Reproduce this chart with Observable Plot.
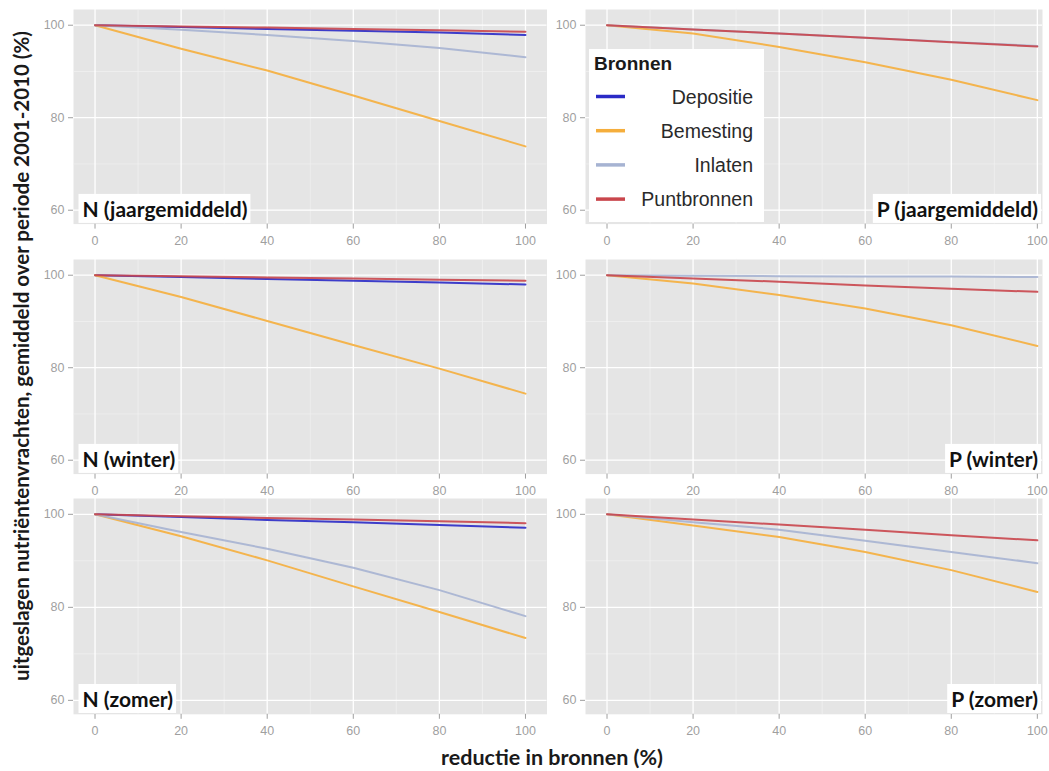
<!DOCTYPE html>
<html>
<head>
<meta charset="utf-8">
<script src="https://cdn.jsdelivr.net/npm/d3@7"></script>
<script src="https://cdn.jsdelivr.net/npm/@observablehq/plot@0.6"></script>
<style>
  body { margin: 0; background: #fff; }
  #chart { position: relative; width: 1049px; height: 771px; overflow: hidden; background: #fff; }
  #chart svg.paneel { position: absolute; }
  #overlay { position: absolute; left: 0; top: 0; pointer-events: none; }
</style>
</head>
<body>
<div id="chart"></div>
<script>
// Reductie in bronnen (%) op de x-as
const reductie = [0, 20, 40, 60, 80, 100];
const bronnen = ["Depositie", "Bemesting", "Inlaten", "Puntbronnen"];
const kleuren = ["#2a2ac6", "#f5ae3c", "#a6b3d2", "#c9464c"];
const xTicks = [0, 20, 40, 60, 80, 100];
const xMinor = [10, 30, 50, 70, 90];
const yTicks = [60, 80, 100];
const yMinor = [70, 90];

// N, jaargemiddeld
const nJaarDepositie   = [100, 99.6, 99.2, 98.8, 98.4, 97.9];
const nJaarBemesting   = [100, 94.9, 90.2, 84.8, 79.3, 73.8];
const nJaarInlaten     = [100, 99.0, 97.9, 96.6, 95.1, 93.1];
const nJaarPuntbronnen = [100, 99.7, 99.5, 99.2, 98.9, 98.6];
// P, jaargemiddeld
const pJaarBemesting   = [100, 98.2, 95.3, 92.0, 88.2, 83.8];
const pJaarInlaten     = [100, 99.1, 98.2, 97.3, 96.4, 95.5];
const pJaarPuntbronnen = [100, 99.1, 98.2, 97.3, 96.3, 95.4];
// N, winter
const nWinterDepositie   = [100, 99.6, 99.2, 98.8, 98.4, 98.0];
const nWinterBemesting   = [100, 95.3, 90.1, 84.9, 79.8, 74.4];
const nWinterPuntbronnen = [100, 99.8, 99.5, 99.3, 99.0, 98.8];
// P, winter
const pWinterBemesting   = [100, 98.2, 95.7, 92.8, 89.2, 84.7];
const pWinterInlaten     = [100, 99.9, 99.8, 99.7, 99.7, 99.6];
const pWinterPuntbronnen = [100, 99.3, 98.6, 97.8, 97.1, 96.4];
// N, zomer
const nZomerDepositie   = [100, 99.4, 98.8, 98.3, 97.7, 97.1];
const nZomerBemesting   = [100, 95.3, 90.1, 84.5, 79.0, 73.4];
const nZomerInlaten     = [100, 96.2, 92.6, 88.5, 83.7, 78.1];
const nZomerPuntbronnen = [100, 99.6, 99.2, 98.9, 98.5, 98.1];
// P, zomer
const pZomerBemesting   = [100, 97.6, 95.1, 91.9, 88.0, 83.3];
const pZomerInlaten     = [100, 98.3, 96.7, 94.3, 91.9, 89.5];
const pZomerPuntbronnen = [100, 98.9, 97.8, 96.7, 95.5, 94.4];

const panelen = [
  {label: "N (jaargemiddeld)", kolom: 0, rij: 0, reeksen: {Depositie: nJaarDepositie, Bemesting: nJaarBemesting, Inlaten: nJaarInlaten, Puntbronnen: nJaarPuntbronnen}},
  {label: "P (jaargemiddeld)", kolom: 1, rij: 0, reeksen: {Bemesting: pJaarBemesting, Inlaten: pJaarInlaten, Puntbronnen: pJaarPuntbronnen}},
  {label: "N (winter)", kolom: 0, rij: 1, reeksen: {Depositie: nWinterDepositie, Bemesting: nWinterBemesting, Puntbronnen: nWinterPuntbronnen}},
  {label: "P (winter)", kolom: 1, rij: 1, reeksen: {Bemesting: pWinterBemesting, Inlaten: pWinterInlaten, Puntbronnen: pWinterPuntbronnen}},
  {label: "N (zomer)", kolom: 0, rij: 2, reeksen: {Depositie: nZomerDepositie, Bemesting: nZomerBemesting, Inlaten: nZomerInlaten, Puntbronnen: nZomerPuntbronnen}},
  {label: "P (zomer)", kolom: 1, rij: 2, reeksen: {Bemesting: pZomerBemesting, Inlaten: pZomerInlaten, Puntbronnen: pZomerPuntbronnen}}
];

// Plaatsing van de panelen (pixels) en het zichtbare x-bereik per kolom
const kolommen = [
  {links: 72.5, rechts: 546, xDomein: [-5, 105], mL: 45, mR: 3},
  {links: 585, rechts: 1042, xDomein: [-5, 101.2], mL: 45, mR: 7}
];
const rijen = [
  {boven: 9.3, onder: 223.9},
  {boven: 259.3, onder: 473.9},
  {boven: 498.2, onder: 714}
];
const yDomein = [57, 103.4];
const mT = 4, mB = 32;

const chart = document.getElementById("chart");
const tekstGrijs = "#9f9f9f";

for (const p of panelen) {
  const k = kolommen[p.kolom], r = rijen[p.rij];
  const rows = [];
  for (const bron of bronnen) {
    const waarden = p.reeksen[bron];
    if (!waarden) continue;
    reductie.forEach((x, i) => rows.push({bron, x, v: waarden[i]}));
  }
  const plotW = k.rechts - k.links, plotH = r.onder - r.boven;
  const svg = Plot.plot({
    width: k.mL + plotW + k.mR,
    height: mT + plotH + mB,
    marginLeft: k.mL, marginRight: k.mR, marginTop: mT, marginBottom: mB,
    style: {background: "transparent", fontFamily: "'Liberation Sans', Arial, sans-serif", fontSize: "12.5px", overflow: "visible"},
    x: {domain: k.xDomein, axis: null},
    y: {domain: yDomein, axis: null},
    color: {domain: bronnen, range: kleuren},
    marks: [
      Plot.frame({fill: "#e5e5e5", stroke: "none"}),
      Plot.gridX(xMinor, {stroke: "#f2f2f2", strokeOpacity: 1, strokeWidth: 0.7}),
      Plot.gridY(yMinor, {stroke: "#f2f2f2", strokeOpacity: 1, strokeWidth: 0.7}),
      Plot.gridX(xTicks, {stroke: "#ffffff", strokeOpacity: 1, strokeWidth: 1.3}),
      Plot.gridY(yTicks, {stroke: "#ffffff", strokeOpacity: 1, strokeWidth: 1.3}),
      Plot.line(rows, {x: "x", y: "v", z: "bron", stroke: "bron", strokeWidth: 2, strokeOpacity: 0.9}),
      Plot.axisX({ticks: xTicks, tickSize: 5, tickPadding: 7, label: null, stroke: tekstGrijs, fill: tekstGrijs}),
      Plot.axisY({ticks: yTicks, tickSize: 5, tickPadding: 4, label: null, stroke: tekstGrijs, fill: tekstGrijs})
    ]
  });
  svg.classList.add("paneel");
  svg.style.left = (k.links - k.mL) + "px";
  svg.style.top = (r.boven - mT) + "px";
  chart.appendChild(svg);
}

// Titels, paneellabels en legenda
const W = 1049, H = 771;
const ov = d3.select(chart).append("svg")
  .attr("id", "overlay").attr("width", W).attr("height", H);

const titelFont = "Lato, 'Open Sans', sans-serif";

ov.append("text")
  .attr("transform", "translate(29,356) rotate(-90)")
  .attr("text-anchor", "middle")
  .style("font-family", titelFont).style("font-weight", 700).style("font-size", "20.5px")
  .attr("fill", "#1a1a1a")
  .text("uitgeslagen nutriëntenvrachten, gemiddeld over periode 2001-2010 (%)");

ov.append("text")
  .attr("x", 552).attr("y", 765)
  .attr("text-anchor", "middle")
  .style("font-family", titelFont).style("font-weight", 700).style("font-size", "21.5px")
  .attr("fill", "#1a1a1a")
  .text("reductie in bronnen (%)");

// Paneellabels met witte achtergrond
for (const p of panelen) {
  const k = kolommen[p.kolom], r = rijen[p.rij];
  const g = ov.append("g");
  const t = g.append("text")
    .attr("y", r.onder - 7)
    .style("font-family", titelFont).style("font-weight", 700).style("font-size", "21px")
    .attr("fill", "#111")
    .text(p.label);
  if (p.kolom === 0) t.attr("x", k.links + 10).attr("text-anchor", "start");
  else t.attr("x", k.rechts - 4).attr("text-anchor", "end");
  const bb = t.node().getBBox();
  g.insert("rect", "text")
    .attr("x", bb.x - 4).attr("y", r.onder - 30)
    .attr("width", bb.width + 7).attr("height", 29)
    .attr("fill", "#fff");
}

// Legenda "Bronnen" in het paneel rechtsboven
const leg = ov.append("g").attr("transform", "translate(589,49)");
leg.append("rect").attr("width", 175).attr("height", 173).attr("fill", "#fff");
leg.append("text").attr("x", 5).attr("y", 21)
  .style("font-family", "'Liberation Sans', Arial, sans-serif").style("font-weight", 700).style("font-size", "19px")
  .attr("fill", "#1a1a1a").text("Bronnen");
bronnen.forEach((b, i) => {
  const y = 47.5 + i * 34.2;
  leg.append("line").attr("x1", 7).attr("x2", 36).attr("y1", y).attr("y2", y)
    .attr("stroke", kleuren[i]).attr("stroke-width", 3.5);
  leg.append("text").attr("x", 164).attr("y", y).attr("dy", "0.36em")
    .attr("text-anchor", "end")
    .style("font-family", "'Liberation Sans', Arial, sans-serif").style("font-size", "19.5px")
    .attr("fill", "#2a2a2a").text(b);
});
</script>
</body>
</html>
